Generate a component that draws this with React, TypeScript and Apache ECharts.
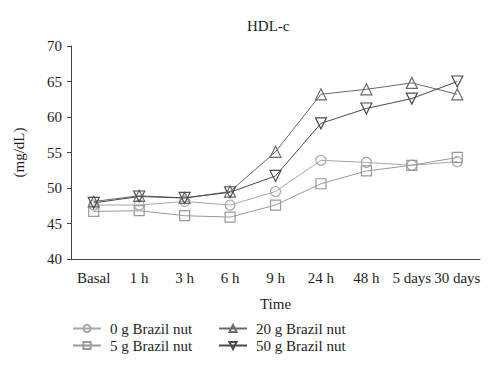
import React, { useEffect, useRef } from "react";
import * as echarts from "echarts";

const categories = ["Basal", "1 h", "3 h", "6 h", "9 h", "24 h", "48 h", "5 days", "30 days"];
const seriesNames = ["0 g Brazil nut", "5 g Brazil nut", "20 g Brazil nut", "50 g Brazil nut"];
const zeroG = [47.6, 47.6, 48.1, 47.6, 49.5, 53.9, 53.6, 53.2, 53.7];
const fiveG = [46.7, 46.8, 46.1, 45.9, 47.6, 50.6, 52.4, 53.2, 54.3];
const twentyG = [48.1, 48.9, 48.6, 49.5, 55.1, 63.2, 63.9, 64.8, 63.2];
const fiftyG = [47.9, 48.8, 48.6, 49.4, 51.7, 59.1, 61.2, 62.6, 65.0];
const yTicks = [40, 45, 50, 55, 60, 65, 70];

const FONT = "'Liberation Serif', 'DejaVu Serif', serif";
const TXT = "#1e1e1e";

export default function App() {
  const ref = useRef<HTMLDivElement>(null);
  useEffect(() => {
    document.body.style.margin = "0";
    if (!ref.current) return;
    const chart = echarts.init(ref.current, undefined, { renderer: "svg" });
    const mk = (name: string, data: number[], symbol: string, color: string, size: number) => ({
      name,
      type: "line",
      data,
      symbol,
      symbolSize: size,
      showAllSymbol: true,
      lineStyle: { color, width: 1 },
      itemStyle: { color: "rgba(255,255,255,0)", borderColor: color, borderWidth: 1.2 },
      emphasis: { disabled: true },
    });
    const legendCommon = {
      orient: "vertical",
      itemWidth: 28,
      itemHeight: 9,
      itemGap: 2,
      textStyle: { fontFamily: FONT, fontSize: 15, color: TXT, padding: [0, 0, 0, 4] },
      selectedMode: false,
      padding: 0,
    };
    chart.setOption({
      animation: false,
      title: {
        text: "HDL-c",
        left: 242,
        top: 13,
        textStyle: { fontFamily: FONT, fontSize: 15, fontWeight: "normal", color: TXT },
      },
      legend: [
        { ...legendCommon, left: 72, top: 321, data: [seriesNames[0], seriesNames[1]] },
        { ...legendCommon, left: 218, top: 321, data: [seriesNames[2], seriesNames[3]] },
      ],
      grid: { left: 71, right: 20, top: 46, bottom: 114, containLabel: false },
      xAxis: {
        type: "category",
        data: categories,
        boundaryGap: true,
        name: "Time",
        nameLocation: "middle",
        nameGap: 37,
        nameTextStyle: { fontFamily: FONT, fontSize: 15, color: TXT },
        axisLine: { lineStyle: { color: "#444", width: 1 } },
        axisTick: { alignWithLabel: true, length: 4, lineStyle: { color: "#444" } },
        axisLabel: { fontFamily: FONT, fontSize: 15, color: TXT, margin: 11, interval: 0 },
      },
      yAxis: {
        type: "value",
        min: yTicks[0],
        max: yTicks[yTicks.length - 1],
        interval: 5,
        name: "(mg/dL)",
        nameLocation: "middle",
        nameGap: 45,
        nameTextStyle: { fontFamily: FONT, fontSize: 15, color: TXT },
        splitLine: { show: false },
        axisLine: { show: true, lineStyle: { color: "#444", width: 1 } },
        axisTick: { show: true, length: 4, lineStyle: { color: "#444" } },
        axisLabel: { fontFamily: FONT, fontSize: 15, color: TXT, margin: 9 },
      },
      series: [
        mk(seriesNames[0], zeroG, "circle", "#a8a8a8", 10),
        mk(seriesNames[1], fiveG, "rect", "#999999", 10),
        mk(seriesNames[2], twentyG, "triangle", "#6a6a6a", 11),
        mk(seriesNames[3], fiftyG, "path://M0,0L10,0L5,8.66Z", "#4a4a4a", 11),
      ],
    });
    return () => chart.dispose();
  }, []);
  return <div ref={ref} style={{ width: 500, height: 373 }} />;
}
